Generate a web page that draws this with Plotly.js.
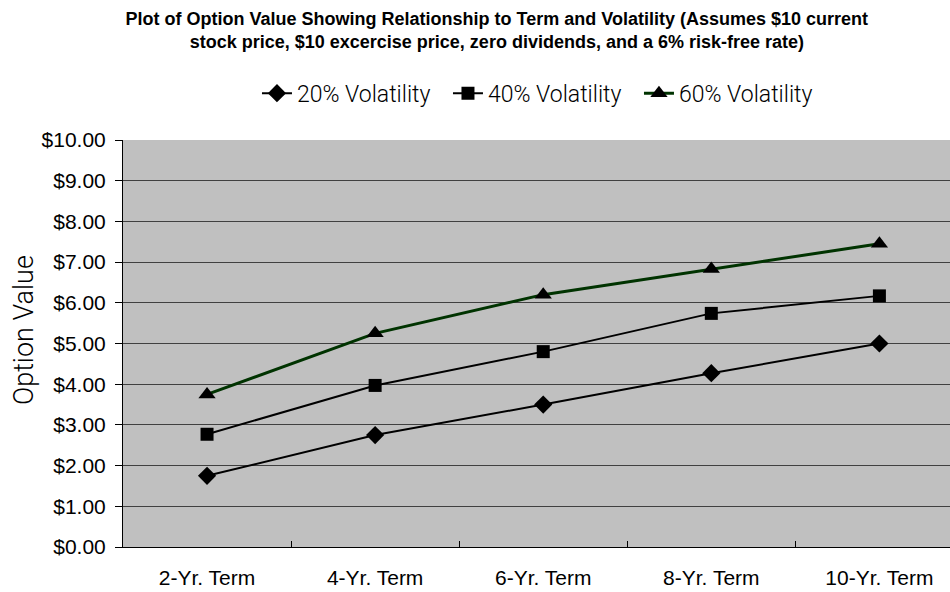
<!DOCTYPE html>
<html>
<head>
<meta charset="utf-8">
<script src="https://cdn.plot.ly/plotly-3.0.1.min.js"></script>
<style>html,body{margin:0;padding:0;background:#fff;}#chart{width:950px;height:592px;}</style>
</head>
<body>
<div id="chart"></div>
<script>
var categories = ["2-Yr. Term", "4-Yr. Term", "6-Yr. Term", "8-Yr. Term", "10-Yr. Term"];
var vol20 = [1.75, 2.75, 3.50, 4.27, 5.00];
var vol40 = [2.77, 3.97, 4.80, 5.74, 6.17];
var vol60 = [3.75, 5.25, 6.20, 6.83, 7.45];
var seriesNames = ["20% Volatility", "40% Volatility", "60% Volatility"];
var yTickVals = [0, 1, 2, 3, 4, 5, 6, 7, 8, 9, 10];
var yTitle = "Option Value";

var traces = [
  {x: categories, y: vol20, name: seriesNames[0], mode: "lines+markers", type: "scatter",
   line: {color: "#000000", width: 2}, marker: {symbol: "diamond", size: 14, color: "#000000"}},
  {x: categories, y: vol40, name: seriesNames[1], mode: "lines+markers", type: "scatter",
   line: {color: "#000000", width: 2}, marker: {symbol: "square", size: 13, color: "#000000"}},
  {x: categories, y: vol60, name: seriesNames[2], mode: "lines+markers", type: "scatter",
   line: {color: "#003300", width: 3}, marker: {symbol: "triangle-up", size: 15, color: "#000000"}}
];

var layout = {
  width: 950, height: 592,
  margin: {l: 123, r: 0, t: 140, b: 45},
  paper_bgcolor: "#ffffff",
  plot_bgcolor: "#c0c0c0",
  showlegend: true,
  title: {
    text: "<b>Plot of Option Value Showing Relationship to Term and Volatility (Assumes $10 current<br>stock price, $10 excercise price, zero dividends, and a 6% risk-free rate)</b>",
    font: {family: "Liberation Sans Narrow, Arial Narrow, Liberation Sans, sans-serif", size: 18, color: "#000"},
    x: 0.523, xanchor: "center", y: 0.958, yanchor: "middle"
  },
  legend: {
    orientation: "h", x: 0.162, xanchor: "left", y: 1.115, yanchor: "middle",
    font: {family: "Roboto, Liberation Sans, sans-serif", size: 23, color: "#000", weight: 300},
    bgcolor: "rgba(0,0,0,0)", itemwidth: 30, tracegroupgap: 0,
    entrywidth: 146, entrywidthmode: "pixels"
  },
  annotations: [{
    text: yTitle, xref: "paper", yref: "paper", x: -0.1197, y: 0.533,
    xanchor: "center", yanchor: "middle", textangle: -90, showarrow: false,
    font: {family: "Roboto, Liberation Sans, sans-serif", size: 27, color: "#000", weight: 300}
  }],
  xaxis: {
    type: "category",
    range: [-0.5, 4.42],
    showline: true, linecolor: "#000", linewidth: 1,
    showgrid: false, zeroline: false,
    ticks: "inside", tickson: "boundaries", ticklen: 6, tickcolor: "#000",
    tickfont: {family: "Liberation Sans, Arial, sans-serif", size: 21, color: "#000"},
    ticklabelstandoff: 12
  },
  yaxis: {
    range: [0, 10],
    tickvals: yTickVals,
    tickformat: "$.2f",
    showline: true, linecolor: "#000", linewidth: 1,
    showgrid: true, gridcolor: "#404040", gridwidth: 1,
    zeroline: false,
    ticks: "outside", ticklen: 7, tickcolor: "#000",
    tickfont: {family: "Liberation Sans, Arial, sans-serif", size: 21, color: "#000"},
    ticklabelstandoff: 5
  }
};

Plotly.newPlot("chart", traces, layout, {displayModeBar: false, staticPlot: true});
</script>
</body>
</html>
